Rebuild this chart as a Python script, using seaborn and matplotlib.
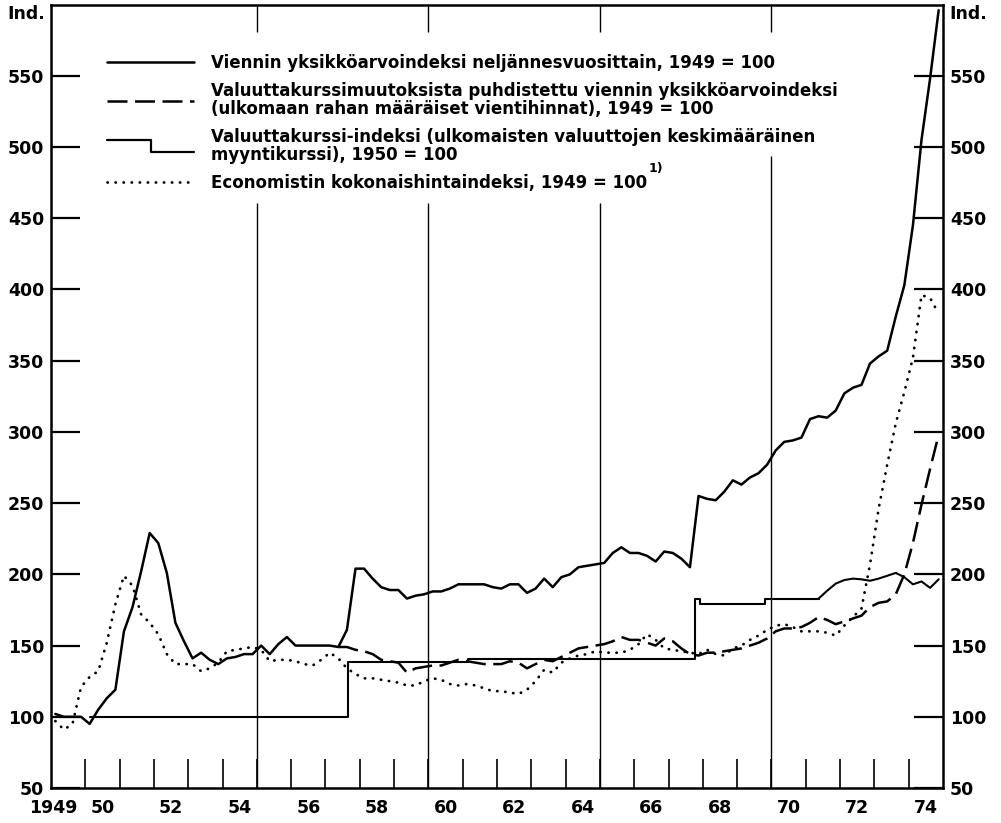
import numpy as np
import pandas as pd
import seaborn as sns
import matplotlib.pyplot as plt
from matplotlib.lines import Line2D
from matplotlib.legend_handler import HandlerBase

# quarterly data 1949Q1 - 1974Q4
years = np.arange(1949, 1975)

export_unit_value = [
    102, 100, 100, 100,   # 1949
    95, 105, 113, 119,    # 1950
    160, 177, 202, 229,   # 1951
    222, 201, 166, 153,   # 1952
    141, 145, 140, 137,   # 1953
    141, 142, 144, 144,   # 1954
    150, 144, 151, 156,   # 1955
    150, 150, 150, 150,   # 1956
    150, 149, 161, 204,   # 1957
    204, 197, 191, 189,   # 1958
    189, 183, 185, 186,   # 1959
    188, 188, 190, 193,   # 1960
    193, 193, 193, 191,   # 1961
    190, 193, 193, 187,   # 1962
    190, 197, 191, 198,   # 1963
    200, 205, 206, 207,   # 1964
    208, 215, 219, 215,   # 1965
    215, 213, 209, 216,   # 1966
    215, 211, 205, 255,   # 1967
    253, 252, 258, 266,   # 1968
    263, 268, 271, 277,   # 1969
    287, 293, 294, 296,   # 1970
    309, 311, 310, 315,   # 1971
    327, 331, 333, 348,   # 1972
    353, 357, 381, 403,   # 1973
    445, 505, 548, 596,   # 1974
]

# exchange-rate adjusted index, 1957Q2 onwards (same as above before that)
adjusted_export = [
    149, 149, 147,        # 1957 Q2-Q4
    146, 144, 140, 139,   # 1958
    138, 131, 134, 135,   # 1959
    136, 136, 138, 140,   # 1960
    139, 138, 137, 137,   # 1961
    137, 139, 138, 134,   # 1962
    137, 140, 139, 142,   # 1963
    145, 148, 149, 150,   # 1964
    151, 153, 156, 154,   # 1965
    154, 152, 150, 155,   # 1966
    153, 148, 144, 143,   # 1967
    145, 145, 146, 147,   # 1968
    148, 150, 152, 155,   # 1969
    160, 162, 162, 163,   # 1970
    166, 170, 168, 165,   # 1971
    167, 169, 171, 177,   # 1972
    180, 181, 186, 200,   # 1973
    222, 249, 274, 298,   # 1974
]

economist_index = [
    97, 91, 95, 121,      # 1949
    128, 132, 152, 179,   # 1950
    199, 192, 172, 166,   # 1951
    158, 144, 137, 137,   # 1952
    137, 132, 134, 138,   # 1953
    146, 147, 148, 149,   # 1954
    147, 139, 140, 140,   # 1955
    139, 137, 136, 140,   # 1956
    145, 141, 134, 130,   # 1957
    127, 127, 126, 125,   # 1958
    124, 122, 122, 125,   # 1959
    127, 126, 123, 122,   # 1960
    123, 122, 120, 118,   # 1961
    118, 117, 116, 119,   # 1962
    125, 133, 131, 138,   # 1963
    141, 143, 144, 146,   # 1964
    145, 145, 145, 147,   # 1965
    151, 158, 154, 148,   # 1966
    147, 146, 145, 144,   # 1967
    147, 144, 143, 148,   # 1968
    150, 154, 157, 161,   # 1969
    164, 165, 163, 160,   # 1970
    160, 160, 159, 157,   # 1971
    164, 170, 176, 207,   # 1972
    246, 277, 306, 328,   # 1973
    352, 396, 394, 383,   # 1974
]

# currency index: fixed rates (step changes), then floating from 1971Q2
fx_change_dates = [1950.125, 1957.65, 1961.15, 1967.78, 1967.92, 1969.82, 1971.375]
fx_levels = [100, 138.5, 140.3, 182.5, 179.5, 182.5, 182.5]
fx_floating = [183, 188.5, 193.5,          # 1971 Q2-Q4
               196, 197, 196.5, 195.5,     # 1972
               197, 199, 201, 198,         # 1973
               193, 195, 190.5, 196.5]     # 1974

xlabels = ['1949', '50', '52', '54', '56', '58', '60', '62', '64', '66', '68', '70', '72', '74']
xlabel_pos = [1949.05, 1950.5] + [y + 0.5 for y in range(1952, 1975, 2)]

labels = [
    'Viennin yksikköarvoindeksi neljännesvuosittain, 1949 = 100',
    'Valuuttakurssimuutoksista puhdistettu viennin yksikköarvoindeksi\n(ulkomaan rahan määräiset vientihinnat), 1949 = 100',
    'Valuuttakurssi-indeksi (ulkomaisten valuuttojen keskimääräinen\nmyyntikurssi), 1950 = 100',
    'Economistin kokonaishintaindeksi, 1949 = 100',
]

quarter_t = (years[:, None] + (np.arange(4) + 0.5) / 4).ravel()
df = pd.DataFrame({'t': quarter_t, 'export': export_unit_value, 'economist': economist_index})
df_adj = pd.DataFrame({'t': quarter_t[33:], 'adjusted': adjusted_export})
df_float = pd.DataFrame({'t': quarter_t[89:], 'fx': fx_floating})
df_step = pd.DataFrame({'t': fx_change_dates, 'fx': fx_levels})

sns.set_style('white')
plt.rcParams['font.family'] = ['DejaVu Sans']
plt.rcParams['font.weight'] = 'bold'
plt.rcParams['text.color'] = 'black'
plt.rcParams['xtick.color'] = 'black'
plt.rcParams['ytick.color'] = 'black'

fig = plt.figure(figsize=(10.01, 8.23), dpi=100)
ax = fig.add_axes([0.051, 0.0425, 0.891, 0.952])

dash = (0, (8, 3))
dots = (0, (0.1, 2.8))
sns.lineplot(data=df, x='t', y='export', ax=ax, color='black', lw=1.8)
sns.lineplot(data=df_adj, x='t', y='adjusted', ax=ax, color='black', lw=1.8, linestyle=dash)
sns.lineplot(data=df_step, x='t', y='fx', ax=ax, color='black', lw=1.5, drawstyle='steps-post')
sns.lineplot(data=df_float, x='t', y='fx', ax=ax, color='black', lw=1.5)
sns.lineplot(data=df, x='t', y='economist', ax=ax, color='black', lw=2.0,
             linestyle=dots, dash_capstyle='round')

# year dividers, broken where the legend text sits
ax.vlines([1955, 1960, 1965, 1970], 50, [461, 461, 461, 494], color='black', lw=1.0)
ax.vlines([1955, 1960, 1965, 1970], 581, 600, color='black', lw=1.0)

ax.set_xlim(1949, 1975)
ax.set_ylim(50, 600)
ax.set_xlabel('')
ax.set_ylabel('')

ax.set_xticks(range(1950, 1975))
ax.set_xticklabels([])
ax.set_xticks(xlabel_pos, minor=True)
ax.set_xticklabels(xlabels, minor=True)
ax.set_yticks(range(50, 600, 50))
ax.set_yticklabels([str(v) for v in range(50, 600, 50)])

ax.tick_params(axis='x', which='major', direction='in', length=21, width=1.2, bottom=True)
ax.tick_params(axis='x', which='minor', length=0, labelsize=12.5, pad=8)
ax.tick_params(axis='y', direction='in', length=21, width=1.6, left=True, right=True,
               labelleft=True, labelright=True, labelsize=12.5, pad=5)

for s in ax.spines.values():
    s.set_linewidth(1.8)
    s.set_color('black')

ax.text(-0.007, 1.0, 'Ind.', transform=ax.transAxes, ha='right', va='top', fontsize=12.5)
ax.text(1.007, 1.0, 'Ind.', transform=ax.transAxes, ha='left', va='top', fontsize=12.5)


class StepHandler(HandlerBase):
    def create_artists(self, legend, orig_handle, xdescent, ydescent, width, height, fontsize, trans):
        x0 = -xdescent
        xm = x0 + 0.5 * width
        x1 = x0 + width
        hi = -ydescent + 1.1 * height
        lo = -ydescent + 0.1 * height
        line = Line2D([x0, xm, xm, x1], [hi, hi, lo, lo], color='black', lw=1.6)
        line.set_transform(trans)
        return [line]


h_solid = Line2D([], [], color='black', lw=1.8)
h_dash = Line2D([], [], color='black', lw=1.8, linestyle=dash)
h_step = Line2D([], [], color='black', lw=1.6)
h_dot = Line2D([], [], color='black', lw=2.0, linestyle=dots, dash_capstyle='round')

leg = ax.legend([h_solid, h_dash, h_step, h_dot], labels, handler_map={h_step: StepHandler()},
                loc='upper left', bbox_to_anchor=(0.063, 0.937), frameon=False,
                borderpad=0, borderaxespad=0, fontsize=12.0, handlelength=5.2,
                handletextpad=1.0, labelspacing=0.6)
for txt in leg.get_texts():
    txt.set_linespacing(1.0)
    txt.set_color('black')

# footnote mark after the last legend entry
fig.canvas.draw()
bb = leg.get_texts()[3].get_window_extent()
fig.text((bb.x1 + 2) / fig.bbox.width, (bb.y1 - 1) / fig.bbox.height, '1)',
         ha='left', va='bottom', fontsize=9)

plt.savefig('out.png', dpi=100)
